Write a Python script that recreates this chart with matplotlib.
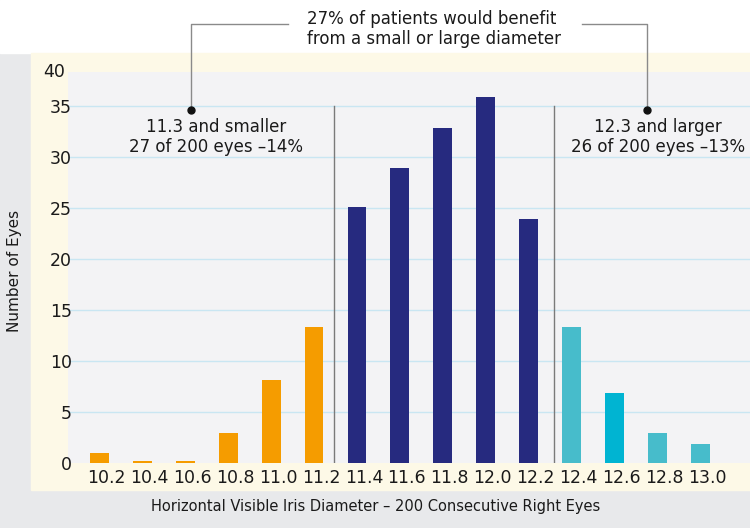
import matplotlib.pyplot as plt
from matplotlib.patches import Rectangle
from matplotlib.transforms import ScaledTranslation

# Diameter classes (mm) and number of eyes per class
diameters = ['10.2', '10.4', '10.6', '10.8', '11.0', '11.2', '11.4', '11.6',
             '11.8', '12.0', '12.2', '12.4', '12.6', '12.8', '13.0']
eyes = [1.0, 0.15, 0.15, 2.9, 8.1, 13.3, 25.1, 28.9, 32.8, 35.9, 23.9,
        13.3, 6.9, 2.9, 1.9]
bar_colors = ['#f59c00'] * 6 + ['#262a7f'] * 5 + ['#47bccb', '#00b4d2', '#47bccb', '#47bccb']

yticks = [0, 5, 10, 15, 20, 25, 30, 35]

plt.rcParams['font.family'] = ['DejaVu Sans']
fig = plt.figure(figsize=(7.5, 5.28), dpi=100)

# background panels (pixel coordinates)
bg = fig.add_axes([0, 0, 1, 1], zorder=0)
bg.set_xlim(0, 750)
bg.set_ylim(528, 0)
bg.axis('off')
bg.add_patch(Rectangle((0, 0), 750, 528, color='#e8e9eb'))
bg.add_patch(Rectangle((0, 0), 750, 53, color='white'))
bg.add_patch(Rectangle((31, 53), 719, 437, color='#fdf9e7'))

# main chart
ax = fig.add_axes([68 / 750, 65 / 528, 682 / 750, 391 / 528], zorder=1)
ax.set_facecolor('#f3f3f5')
ax.bar(range(len(eyes)), eyes, width=0.44, color=bar_colors, zorder=3)
ax.set_xlim(-0.734, 15.16)
ax.set_ylim(0, 38.3)
ax.set_yticks(yticks)
ax.set_xticks(range(len(diameters)))
ax.set_xticklabels(diameters)
ax.grid(axis='y', color='#c9e6f2', lw=1, zorder=0)
ax.yaxis.get_gridlines()[0].set_visible(False)
for s in ax.spines.values():
    s.set_visible(False)
ax.tick_params(axis='both', length=0, labelcolor='#1a1a1a')
ax.tick_params(axis='x', labelsize=12.5, pad=4)
ax.tick_params(axis='y', labelsize=12.5, pad=-3)
for lab in ax.get_xticklabels():
    lab.set_transform(lab.get_transform() + ScaledTranslation(0.07, 0, fig.dpi_scale_trans))
ax.text(-0.005, 1.0, '40', transform=ax.transAxes, ha='right', va='center',
        fontsize=12.5, color='#1a1a1a')

# group dividers
ax.axvline(5.47, ymax=35 / 38.3, color='#7a7a7a', lw=1, zorder=2)
ax.axvline(10.6, ymax=35 / 38.3, color='#7a7a7a', lw=1, zorder=2)

# annotations (pixel coordinates)
ov = fig.add_axes([0, 0, 1, 1], zorder=5)
ov.set_xlim(0, 750)
ov.set_ylim(528, 0)
ov.axis('off')
ov.patch.set_alpha(0)
ov.plot([288, 191, 191], [24, 24, 110], color='#8a8a8a', lw=1)
ov.plot([582, 647, 647], [24, 24, 110], color='#8a8a8a', lw=1)
ov.plot([191, 647], [110, 110], 'o', ms=5, color='#111111', ls='none')
ov.text(307, 29, '27% of patients would benefit\nfrom a small or large diameter',
        ha='left', va='center', fontsize=12, linespacing=1.1, color='#1a1a1a')
ov.text(216, 137, '11.3 and smaller\n27 of 200 eyes \u201314%',
        ha='center', va='center', fontsize=12, linespacing=1.15, color='#1a1a1a')
ov.text(658, 137, '12.3 and larger\n26 of 200 eyes \u201313%',
        ha='center', va='center', fontsize=12, linespacing=1.15, color='#1a1a1a')

fig.text(376 / 750, 1 - 507 / 528,
         'Horizontal Visible Iris Diameter \u2013 200 Consecutive Right Eyes',
         ha='center', va='center', fontsize=10.5, color='#1a1a1a')
fig.text(15 / 750, 1 - 271 / 528, 'Number of Eyes', rotation=90,
         ha='center', va='center', fontsize=11, color='#1a1a1a')

fig.savefig('out.png', dpi=100)
